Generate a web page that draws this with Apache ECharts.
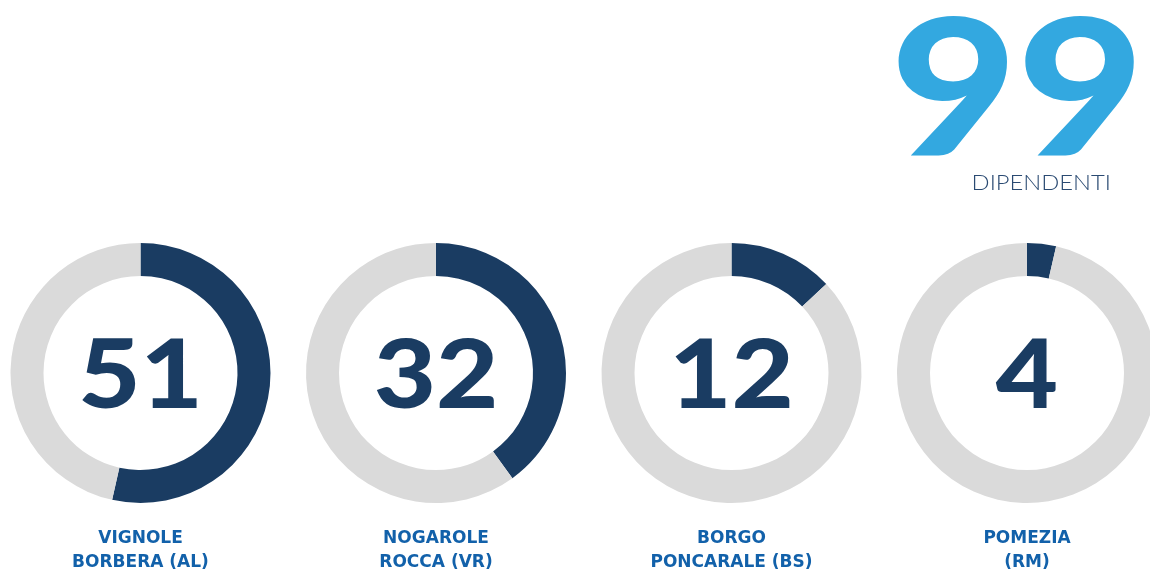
<!DOCTYPE html>
<html>
<head>
<meta charset="utf-8">
<script src="https://cdn.jsdelivr.net/npm/echarts@6/dist/echarts.min.js"></script>
<style>
html,body{margin:0;padding:0;background:#fff;}
#chart{width:1150px;height:570px;}
</style>
</head>
<body>
<div id="chart"></div>
<script>
// Sites and their employee counts (shown as the central figures)
const sites = ["VIGNOLE\nBORBERA (AL)", "NOGAROLE\nROCCA (VR)", "BORGO\nPONCARALE (BS)", "POMEZIA\n(RM)"];
const employees = [51, 32, 12, 4];
// Arc share of each ring, in percent, as drawn in the reference
const arcPercent = [53.5, 40, 13, 3.6];
const total = 99;
const totalLabel = "DIPENDENTI";

const centersX = [140.5, 436, 731.5, 1027];
const centerY = 373;
const navy = "#1a3c62";
const grey = "#dadada";

const chart = echarts.init(document.getElementById('chart'), null, {renderer: 'canvas'});

const series = arcPercent.map((p, i) => ({
  type: 'pie',
  center: [centersX[i], centerY],
  radius: [97, 130],
  startAngle: 90,
  clockwise: true,
  silent: true,
  animation: false,
  label: {show: false},
  labelLine: {show: false},
  emphasis: {disabled: true},
  itemStyle: {borderWidth: 0},
  data: [
    {name: 'share', value: p, itemStyle: {color: navy}},
    {name: 'rest', value: 100 - p, itemStyle: {color: grey}}
  ]
}));

const graphics = [];
employees.forEach((v, i) => {
  graphics.push({
    type: 'text',
    x: centersX[i],
    y: centerY + 4,
    scaleX: 1.12,
    style: {
      text: String(v),
      font: '900 96px Lato',
      fill: navy,
      align: 'center',
      verticalAlign: 'middle'
    }
  });
  graphics.push({
    type: 'text',
    x: centersX[i],
    y: 527,
    style: {
      text: sites[i],
      font: 'bold 17px "DejaVu Sans"',
      fill: '#1261aa',
      align: 'center',
      verticalAlign: 'top',
      lineHeight: 24
    }
  });
});
graphics.push({
  type: 'text',
  x: 1144,
  y: 94.5,
  scaleX: 1.15,
  style: {
    text: String(total),
    font: '900 190px Lato',
    fill: '#33a8e0',
    align: 'right',
    verticalAlign: 'middle'
  }
});
graphics.push({
  type: 'text',
  x: 1111,
  y: 183,
  scaleX: 1.08,
  style: {
    text: totalLabel,
    font: '300 22px Lato',
    fill: '#2a4a72',
    align: 'right',
    verticalAlign: 'middle'
  }
});

chart.setOption({
  animation: false,
  series: series,
  graphic: graphics
});
</script>
</body>
</html>
